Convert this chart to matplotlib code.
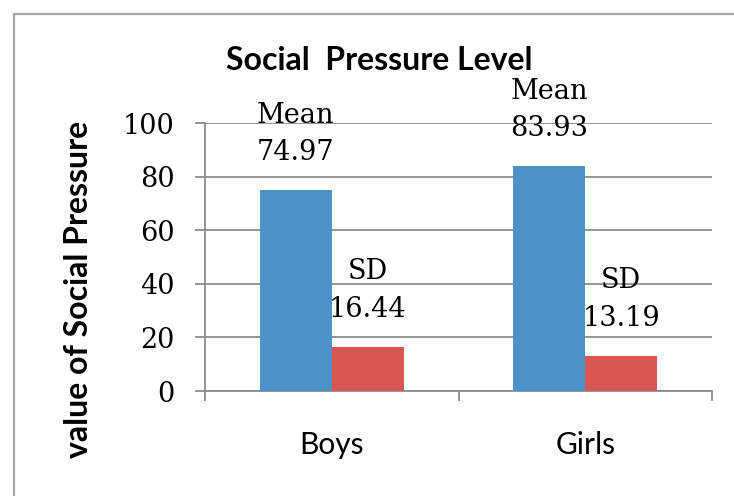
import numpy as np
import matplotlib.pyplot as plt
from matplotlib.patches import Rectangle

# Chart data
groups = ['Boys', 'Girls']
mean_vals = [74.97, 83.93]
sd_vals = [16.44, 13.19]
y_ticks = [0, 20, 40, 60, 80, 100]

blue = '#4a92c9'
red = '#d85650'
grid_col = '#8c8c8c'

fig = plt.figure(figsize=(7.34, 4.96), dpi=100)
ax = fig.add_axes([205/734, 1 - 391/496, (712 - 205)/734, (391 - 123)/496])

# Outer chart border (right and bottom run past the image)
fig.patches.append(Rectangle((13.5/734, -0.1), 1.0, 1 - 14/496 + 0.1,
                             transform=fig.transFigure, fill=False,
                             edgecolor='#a6a6a6', linewidth=1.6))

x = np.arange(len(groups))
w = 0.284
bars_mean = ax.bar(x - w/2, mean_vals, w, color=blue, zorder=3)
bars_sd = ax.bar(x + w/2, sd_vals, w, color=red, zorder=3)

serif = 'DejaVu Serif'
fs = 19.5

# Data labels: name above value, both above each bar
for bars, name, vals in [(bars_mean, 'Mean', mean_vals), (bars_sd, 'SD', sd_vals)]:
    for b, v in zip(bars, vals):
        cx = b.get_x() + b.get_width() / 2
        ax.annotate(f'{v:.2f}', (cx, v), xytext=(0, 27), textcoords='offset points',
                    ha='center', va='center', fontsize=fs, family=serif, zorder=4)
        ax.annotate(name, (cx, v), xytext=(0, 54), textcoords='offset points',
                    ha='center', va='center', fontsize=fs, family=serif, zorder=4,
                    annotation_clip=False)

ax.set_xlim(-0.5, 1.5)
ax.set_ylim(0, 100)
ax.set_yticks(y_ticks)
ax.set_yticklabels([str(t) for t in y_ticks], family=serif, fontsize=fs)
ax.yaxis.grid(True, color=grid_col, linewidth=1.3, zorder=0)
ax.tick_params(axis='y', length=7, width=1.3, color=grid_col, pad=15)

ax.set_xticks(x)
ax.set_xticklabels(groups, family='Lato', fontsize=21.5)
ax.set_xticks([-0.5, 0.5, 1.5], minor=True)
ax.tick_params(axis='x', which='major', length=0, pad=29)
ax.tick_params(axis='x', which='minor', length=7, width=1.3, color=grid_col)

for s in ['top', 'right']:
    ax.spines[s].set_visible(False)
for s in ['left', 'bottom']:
    ax.spines[s].set_color(grid_col)
    ax.spines[s].set_linewidth(1.3)

fig.text(379/734, 1 - 60/496, 'Social  Pressure Level', ha='center', va='center',
         fontsize=23, fontweight='bold', family='Lato')
fig.text(79/734, 1 - 289/496, 'value of Social Pressure', ha='center', va='center',
         rotation=90, fontsize=23, fontweight='bold', family='Lato')

fig.savefig('out.png', dpi=100)
